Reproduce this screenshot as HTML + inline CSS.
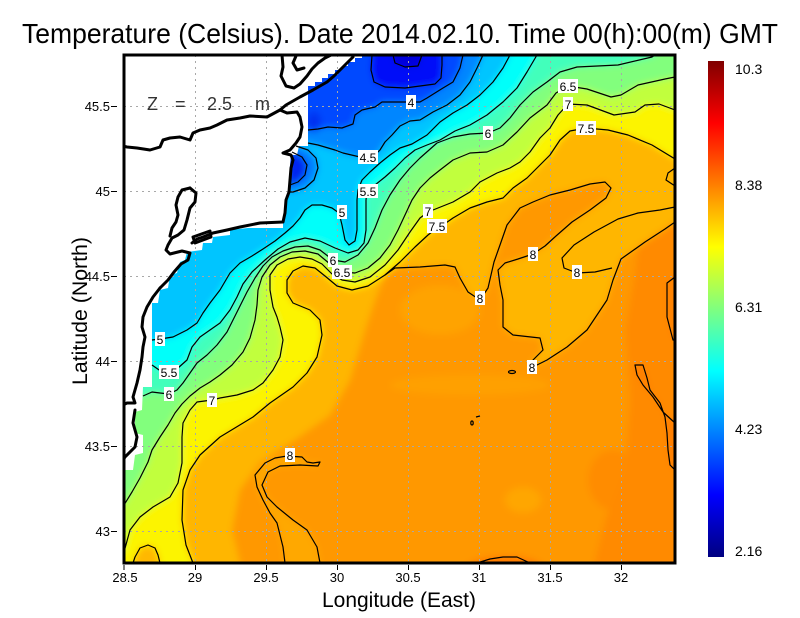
<!DOCTYPE html>
<html><head><meta charset="utf-8">
<style>html,body{margin:0;padding:0;background:#fff;}svg{display:block;}</style>
</head>
<body>
<svg width="800" height="618" viewBox="0 0 800 618" xmlns="http://www.w3.org/2000/svg" font-family="'Liberation Sans', Arial, sans-serif">
<defs>
<clipPath id="pc"><rect x="124" y="55" width="551" height="508"/></clipPath>
<filter id="bl" x="-5%" y="-5%" width="110%" height="110%"><feGaussianBlur stdDeviation="3.5"/></filter>
<linearGradient id="cb" x1="0" y1="1" x2="0" y2="0">
<stop offset="0" stop-color="#000080"/>
<stop offset="0.125" stop-color="#0000ff"/>
<stop offset="0.375" stop-color="#00ffff"/>
<stop offset="0.625" stop-color="#ffff00"/>
<stop offset="0.875" stop-color="#ff0000"/>
<stop offset="1" stop-color="#800000"/>
</linearGradient>
</defs>
<rect width="800" height="618" fill="#fff"/>

<text x="22" y="43" font-size="28" textLength="756" lengthAdjust="spacingAndGlyphs">Temperature (Celsius). Date 2014.02.10. Time 00(h):00(m) GMT</text>

<g clip-path="url(#pc)">
 <g filter="url(#bl)">
  <rect x="100" y="30" width="600" height="550" fill="#ff9800"/>
  <ellipse cx="440" cy="310" rx="40" ry="25" fill="#ffa300"/>
  <ellipse cx="470" cy="385" rx="80" ry="10" fill="#ffa000"/>
  <ellipse cx="523" cy="500" rx="18" ry="13" fill="#ffa600"/>
  <ellipse cx="613" cy="480" rx="25" ry="30" fill="#ff8c00"/>
  <polygon points="640,230 675,215 700,215 700,580 590,580 605,520 625,470 630,400 625,330 635,270" fill="#ff8a00"/>
  <ellipse cx="505" cy="570" rx="40" ry="14" fill="#ff7a00"/>
  <polygon points="675,423 663,412 653,397 643,385 637,375 635,365 643,365 647,378 650,390 660,403 665,417 667,433 668,450 670,465 675,470 690,470 690,423" fill="#ff7e00"/>
  <polygon points="690,277 675,277 667,283 667,317 673,340 690,340" fill="#ff8200"/>
  <polygon points="240,580 240,563 232,530 240,490 260,462 295,440 330,415 350,380 365,330 375,300 385,275 395,268 420,267 445,265 455,267 460,278 468,292 480,300 488,288 491,275 494,262 500,245 507,225 520,208 533,202 550,195 570,190 590,184 605,182 611,188 606,198 590,210 572,222 556,236 545,246 533,254 518,259 505,263 498,270 500,285 503,300 503,327 513,335 540,338 543,350 533,360 531,368 547,360 567,347 587,330 607,300 613,280 621,259 645,242 665,229 675,222 700,222 700,30 100,30 100,580" fill="#ffb600"/>
  <polygon points="285,580 285,563 283,547 277,523 270,513 263,500 257,487 255,475 265,463 275,458 287,456 302,457 307,462 313,463 320,462 318,466 300,465 280,466 268,472 262,485 267,497 277,507 293,520 307,530 317,547 320,563 320,580" fill="#ffa800"/>
  <polygon points="193,580 193,563 186,545 182,520 183,490 190,470 200,455 220,437 253,417 270,403 293,387 307,373 317,357 322,335 320,320 310,310 293,303 287,293 287,280 293,271 303,266 315,268 325,276 337,286 352,290 368,286 385,275 400,262 415,247 428,235 437,228 443,225 453,218 470,208 487,202 503,198 513,188 527,178 540,165 550,155 560,140 570,131 586,128 608,130 628,135 652,145 675,159 700,159 700,30 100,30 100,580" fill="#fcf400"/>
  <polygon points="110,565 124,552 130,530 140,517 153,507 170,497 178,483 182,463 182,437 183,423 190,410 197,402 212,400 220,398 237,395 253,390 263,383 273,370 280,357 283,340 280,327 277,317 273,307 270,290 270,275 277,265 288,259 300,257 312,259 322,264 332,274 342,280 355,282 370,277 385,265 398,250 410,232 420,218 428,212 433,210 453,202 470,192 480,182 497,173 510,168 520,162 530,152 540,138 550,128 558,115 568,104 587,105 614,115 635,112 645,105 659,104 675,110 700,110 700,30 100,30 100,565" fill="#c1ff3e"/>
  <polygon points="110,505 124,505 132,492 140,478 148,462 152,450 160,437 168,425 175,413 182,404 190,396 200,388 210,382 220,375 232,365 243,352 250,338 255,320 257,305 258,290 262,277 270,265 280,257 292,252 305,251 318,254 330,264 342,272 355,273 368,268 380,258 390,245 398,230 405,215 412,200 420,188 430,178 440,170 453,160 470,153 487,152 503,145 517,132 530,118 547,105 556,93 568,86 587,89 611,97 621,95 638,85 665,79 675,77 700,77 700,30 100,30 100,505" fill="#82ff7d"/>
  <polygon points="110,396 143,396 152,392 160,393 169,394 177,390 183,383 190,373 197,363 207,355 217,345 227,332 233,320 240,306 247,292 255,278 263,266 272,257 283,251 295,247 308,246 320,250 333,260 345,262 358,255 368,243 375,228 382,210 390,195 400,180 410,168 420,158 437,143 453,137 470,134 488,133 500,128 510,118 520,105 533,92 547,82 560,72 577,67 618,65 652,57 655,55 657,30 100,30 100,396" fill="#43ffbb"/>
  <polygon points="110,365 152,365 162,372 169,371 178,368 187,360 192,347 200,337 210,330 220,323 230,310 237,297 243,284 252,272 265,260 278,249 290,242 305,238 320,241 335,248 348,253 358,250 364,243 366,230 366,215 366,200 367,191 375,185 385,177 395,168 405,158 415,150 427,145 440,140 455,131 470,125 487,115 503,102 517,88 527,72 537,55 539,30 100,30 100,365" fill="#05fffa"/>
  <polygon points="110,340 152,340 160,339 173,337 187,330 197,323 203,313 210,303 220,290 230,273 240,263 252,256 263,249 275,241 285,233 293,226 300,218 305,210 312,205 322,205 332,208 339,213 342,225 345,240 349,245 355,241 357,230 357,215 357,200 358,190 362,180 370,172 380,163 390,155 400,148 412,144 427,135 440,122 453,113 467,105 480,95 493,82 503,68 510,55 512,30 100,30 100,340" fill="#00c5ff"/>
  <polygon points="110,143 308,143 318,145 335,150 343,153 360,157 375,155 380,150 385,142 392,135 400,126 410,121 420,120 433,112 447,105 460,95 470,82 477,68 483,55 485,30 100,30 100,143" fill="#0086ff"/>
  <polygon points="110,130 308,130 318,129 328,127 342,128 353,124 355,115 362,110 375,107 382,102 395,102 411,102 420,102 427,98 443,88 453,82 460,68 463,55 465,30 100,30 100,130" fill="#0048ff"/>
  <ellipse cx="314" cy="122" rx="7" ry="10" fill="#0030f0"/>
  <polygon points="372,40 372,55 371,70 374,82 385,87 405,88 420,86 435,84 441,78 442,65 442,55 442,40" fill="#0010f8"/>
  <polygon points="393,40 393,55 395,63 405,67 418,66 422,55 422,40" fill="#0000d8"/>
  <polygon points="296,146 308,150 316,158 318,168 314,180 305,188 293,192 285,192 285,146" fill="#0080ff"/>
  <polygon points="292,152 302,157 307,165 305,175 298,182 288,185 286,152" fill="#0028f0"/>
  <polygon points="133,580 133,563 135,557 140,548 148,545 155,548 158,555 160,563 160,580" fill="#ffb800"/>
 </g>

 <polygon points="124,55 362,55 362,58 355,58 355,62 348,62 348,66 342,66 342,70 335,70 335,74 328,74 328,78 322,78 322,82 315,82 315,86 308,86 308,146 299,146 297,155 291,155 290,165 289,190 287,197 285,213 283,222 283,228 248,228 230,230 230,235 213,237 212,243 203,243 202,250 187,252 185,260 180,262 177,273 170,275 168,288 160,290 158,303 152,303 152,387 143,387 142,410 135,412 135,433 143,435 143,453 135,455 133,470 124,470" fill="#fff"/>

 <g stroke="#a8a8a8" stroke-width="1" stroke-dasharray="2,4" fill="none">
  <line x1="195.5" y1="55" x2="195.5" y2="563"/>
  <line x1="266.5" y1="55" x2="266.5" y2="563"/>
  <line x1="337.5" y1="55" x2="337.5" y2="563"/>
  <line x1="408.5" y1="55" x2="408.5" y2="563"/>
  <line x1="479.5" y1="55" x2="479.5" y2="563"/>
  <line x1="550.5" y1="55" x2="550.5" y2="563"/>
  <line x1="621.5" y1="55" x2="621.5" y2="563"/>
  <line x1="124" y1="106.5" x2="675" y2="106.5"/>
  <line x1="124" y1="191.5" x2="675" y2="191.5"/>
  <line x1="124" y1="276.5" x2="675" y2="276.5"/>
  <line x1="124" y1="361.5" x2="675" y2="361.5"/>
  <line x1="124" y1="446.5" x2="675" y2="446.5"/>
  <line x1="124" y1="531.5" x2="675" y2="531.5"/>
 </g>

 <g stroke="#000" stroke-width="1.2" fill="none" stroke-linejoin="round">
  <polyline points="372,55 371,70 374,82 385,87 405,88 420,86 435,84 441,78 442,65 442,55"/>
  <polyline points="393,55 395,63 405,67 418,66 422,55"/>
  <polyline points="308,130 318,129 328,127 342,128 353,124 355,115 362,110 375,107 382,102 395,102 411,102 420,102 427,98 443,88 453,82 460,68 463,55"/>
  <polyline points="308,143 318,145 335,150 343,153 360,157 375,155 380,150 385,142 392,135 400,126 410,121 420,120 433,112 447,105 460,95 470,82 477,68 483,55"/>
  <polyline points="152,340 160,339 173,337 187,330 197,323 203,313 210,303 220,290 230,273 240,263 252,256 263,249 275,241 285,233 293,226 300,218 305,210 312,205 322,205 332,208 339,213 342,225 345,240 349,245 355,241 357,230 357,215 357,200 358,190 362,180 370,172 380,163 390,155 400,148 412,144 427,135 440,122 453,113 467,105 480,95 493,82 503,68 510,55"/>
  <polyline points="152,365 162,372 169,371 178,368 187,360 192,347 200,337 210,330 220,323 230,310 237,297 243,284 252,272 265,260 278,249 290,242 305,238 320,241 335,248 348,253 358,250 364,243 366,230 366,215 366,200 367,191 375,185 385,177 395,168 405,158 415,150 427,145 440,140 455,131 470,125 487,115 503,102 517,88 527,72 537,55"/>
  <polyline points="143,396 152,392 160,393 169,394 177,390 183,383 190,373 197,363 207,355 217,345 227,332 233,320 240,306 247,292 255,278 263,266 272,257 283,251 295,247 308,246 320,250 333,260 345,262 358,255 368,243 375,228 382,210 390,195 400,180 410,168 420,158 437,143 453,137 470,134 488,133 500,128 510,118 520,105 533,92 547,82 560,72 577,67 618,65 652,57 655,55"/>
  <polyline points="124,505 132,492 140,478 148,462 152,450 160,437 168,425 175,413 182,404 190,396 200,388 210,382 220,375 232,365 243,352 250,338 255,320 257,305 258,290 262,277 270,265 280,257 292,252 305,251 318,254 330,264 342,272 355,273 368,268 380,258 390,245 398,230 405,215 412,200 420,188 430,178 440,170 453,160 470,153 487,152 503,145 517,132 530,118 547,105 556,93 568,86 587,89 611,97 621,95 638,85 665,79 675,77"/>
  <polyline points="124,552 130,530 140,517 153,507 170,497 178,483 182,463 182,437 183,423 190,410 197,402 212,400 220,398 237,395 253,390 263,383 273,370 280,357 283,340 280,327 277,317 273,307 270,290 270,275 277,265 288,259 300,257 312,259 322,264 332,274 342,280 355,282 370,277 385,265 398,250 410,232 420,218 428,212 433,210 453,202 470,192 480,182 497,173 510,168 520,162 530,152 540,138 550,128 558,115 568,104 587,105 614,115 635,112 645,105 659,104 675,110"/>
  <polyline points="193,563 186,545 182,520 183,490 190,470 200,455 220,437 253,417 270,403 293,387 307,373 317,357 322,335 320,320 310,310 293,303 287,293 287,280 293,271 303,266 315,268 325,276 337,286 352,290 368,286 385,275 400,262 415,247 428,235 437,228 443,225 453,218 470,208 487,202 503,198 513,188 527,178 540,165 550,155 560,140 570,131 586,128 608,130 628,135 652,145 675,159"/>
  <polyline points="385,275 395,268 420,267 445,265 455,267 460,278 468,292 480,300 488,288 491,275 494,262 500,245 507,225 520,208 533,202 550,195 570,190 590,184 605,182 611,188 606,198 590,210 572,222 556,236 545,246 533,254 518,259 505,263 498,270 500,285 503,300 503,327 513,335 540,338 543,350 533,360 531,368 547,360 567,347 587,330 607,300 613,280 621,259 645,242 665,229 675,222"/>
  <polyline points="612,268 595,272 577,273 564,268 562,258 574,245 594,232 618,219 638,213 660,210 675,207"/>
  <polyline points="675,168 668,173 666,180 675,186"/>
  <polyline points="675,423 663,412 653,397 643,385 637,375 635,365 643,365 647,378 650,390 660,403 665,417 667,433 668,450 670,465 675,470"/>
  <polyline points="675,277 667,283 667,317 673,340 675,340"/>
  <polyline points="477,563 490,559 503,557 517,557 530,563"/>
  <polyline points="285,563 283,547 277,523 270,513 263,500 257,487 255,475 265,463 275,458 287,456 302,457 307,462 313,463 320,462 318,466 300,465 280,466 268,472 262,485 267,497 277,507 293,520 307,530 317,547 320,563"/>
  <polyline points="133,563 135,557 140,548 148,545 155,548 158,555 160,563"/>
  <polyline points="296,146 308,150 316,158 318,168 314,180 305,188 293,192 289,192"/>
  <polyline points="292,152 302,157 307,165 305,175 298,182 290,185"/>
  <ellipse cx="512" cy="372" rx="3.5" ry="1.5"/>
  <ellipse cx="472" cy="423" rx="1.2" ry="2"/>
  <line x1="476" y1="417" x2="480" y2="416"/>
 </g>

 <g font-size="12" text-anchor="middle" fill="#000">
  <rect x="406" y="95" width="10" height="14" fill="#fff"/><text x="411" y="107">4</text>
  <rect x="358" y="150" width="20" height="14" fill="#fff"/><text x="368" y="162">4.5</text>
  <rect x="358" y="184" width="20" height="14" fill="#fff"/><text x="368" y="196">5.5</text>
  <rect x="337" y="205" width="10" height="14" fill="#fff"/><text x="342" y="217">5</text>
  <rect x="423" y="204" width="10" height="14" fill="#fff"/><text x="428" y="216">7</text>
  <rect x="427" y="219" width="20" height="14" fill="#fff"/><text x="437" y="231">7.5</text>
  <rect x="328" y="253" width="10" height="14" fill="#fff"/><text x="333" y="265">6</text>
  <rect x="332" y="265" width="20" height="14" fill="#fff"/><text x="342" y="277">6.5</text>
  <rect x="483" y="126" width="10" height="14" fill="#fff"/><text x="488" y="138">6</text>
  <rect x="558" y="79" width="20" height="14" fill="#fff"/><text x="568" y="91">6.5</text>
  <rect x="563" y="97" width="10" height="14" fill="#fff"/><text x="568" y="109">7</text>
  <rect x="576" y="121" width="20" height="14" fill="#fff"/><text x="586" y="133">7.5</text>
  <rect x="528" y="247" width="10" height="14" fill="#fff"/><text x="533" y="259">8</text>
  <rect x="572" y="265" width="10" height="14" fill="#fff"/><text x="577" y="277">8</text>
  <rect x="475" y="291" width="10" height="14" fill="#fff"/><text x="480" y="303">8</text>
  <rect x="527" y="360" width="10" height="14" fill="#fff"/><text x="532" y="372">8</text>
  <rect x="155" y="332" width="10" height="14" fill="#fff"/><text x="160" y="344">5</text>
  <rect x="159" y="365" width="20" height="14" fill="#fff"/><text x="169" y="377">5.5</text>
  <rect x="164" y="387" width="10" height="14" fill="#fff"/><text x="169" y="399">6</text>
  <rect x="207" y="393" width="10" height="14" fill="#fff"/><text x="212" y="405">7</text>
  <rect x="285" y="448" width="10" height="14" fill="#fff"/><text x="290" y="460">8</text>
 </g>

 <g stroke="#000" stroke-width="3" fill="none" stroke-linejoin="round" stroke-linecap="round">
  <polyline points="282,55 283,67 281,76 286,86 294,88 300,84 307,76 312,69 318,63 325,58 331,55"/>
  <polyline points="280,110 286,105 300,97 313,90 327,82 334,76 341,69 348,62 353,57"/>
  <polyline points="296,56 293,63 297,70 304,68"/>
  <polyline points="280,110 287,113 297,112 300,117 302,127 300,137 296,143 290,150 283,153 291,155 293,160 291,168 290,180 289,192 286,200 285,213 283,222 260,223 240,227 227,230 213,233 203,237 197,239 192,243"/>
  <polyline points="280,110 267,117 250,116 240,118 227,120 217,125 210,128 200,130 193,133 190,140 180,137 170,138 163,140 160,147 150,150 137,148 127,147 123,146"/>
  <polyline points="190,188 196,193 195,202 190,208 187,220 184,230 178,235 172,238 168,245 166,250 170,254 182,251 190,253 188,260 181,264 174,272 168,280 160,288"/>
  <polyline points="190,188 182,190 178,197 176,205 178,215 176,222 172,228 170,236"/>
  <polygon points="193,237 210,231 211,237 195,243"/>
  <polyline points="160,288 153,297 147,307 143,317 142,327 145,337 143,347 142,357 140,370 137,383 133,397 135,403 127,403 123,405"/>
  <polyline points="135,410 133,423 137,437 135,447 125,457 123,460"/>
 </g>

 <g font-size="18" fill="#333">
  <text x="147" y="110">Z</text>
  <text x="175" y="110">=</text>
  <text x="207" y="110">2.5</text>
  <text x="255" y="110">m</text>
 </g>
</g>

<rect x="124" y="55" width="551" height="508" fill="none" stroke="#000" stroke-width="3"/>

<g stroke="#000" stroke-width="1">
 <line x1="124" y1="565" x2="124" y2="570"/>
 <line x1="195.5" y1="565" x2="195.5" y2="570"/>
 <line x1="266.5" y1="565" x2="266.5" y2="570"/>
 <line x1="337.5" y1="565" x2="337.5" y2="570"/>
 <line x1="408.5" y1="565" x2="408.5" y2="570"/>
 <line x1="479.5" y1="565" x2="479.5" y2="570"/>
 <line x1="550.5" y1="565" x2="550.5" y2="570"/>
 <line x1="621.5" y1="565" x2="621.5" y2="570"/>
 <line x1="111" y1="106.5" x2="117" y2="106.5"/>
 <line x1="111" y1="191.5" x2="117" y2="191.5"/>
 <line x1="111" y1="276.5" x2="117" y2="276.5"/>
 <line x1="111" y1="361.5" x2="117" y2="361.5"/>
 <line x1="111" y1="446.5" x2="117" y2="446.5"/>
 <line x1="111" y1="531.5" x2="117" y2="531.5"/>
</g>
<g font-size="13" fill="#000" text-anchor="middle">
 <text x="125" y="582">28.5</text>
 <text x="195" y="582">29</text>
 <text x="266" y="582">29.5</text>
 <text x="337" y="582">30</text>
 <text x="408" y="582">30.5</text>
 <text x="479" y="582">31</text>
 <text x="550" y="582">31.5</text>
 <text x="621" y="582">32</text>
</g>
<g font-size="13" fill="#000" text-anchor="end">
 <text x="110" y="111">45.5</text>
 <text x="110" y="196">45</text>
 <text x="110" y="281">44.5</text>
 <text x="110" y="366">44</text>
 <text x="110" y="451">43.5</text>
 <text x="110" y="536">43</text>
</g>

<text x="322" y="607" font-size="21" textLength="154" lengthAdjust="spacingAndGlyphs">Longitude (East)</text>
<text transform="translate(87,385) rotate(-90)" x="0" y="0" font-size="21" textLength="148" lengthAdjust="spacingAndGlyphs">Latitude (North)</text>

<rect x="708" y="61" width="16" height="496" fill="url(#cb)"/>
<g font-size="14" fill="#000">
 <text x="735" y="74">10.3</text>
 <text x="735" y="190">8.38</text>
 <text x="735" y="312">6.31</text>
 <text x="735" y="434">4.23</text>
 <text x="735" y="556">2.16</text>
</g>
</svg>
</body></html>
